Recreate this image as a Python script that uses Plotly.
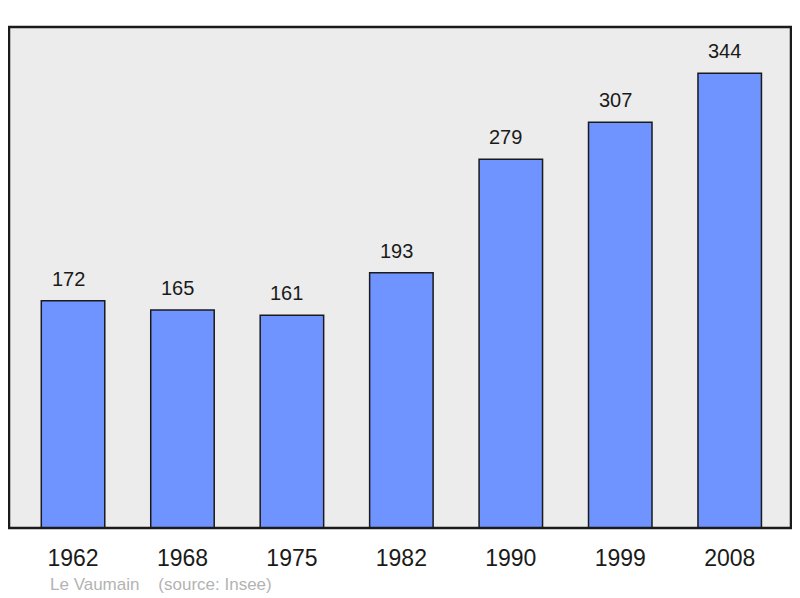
import plotly.graph_objects as go

# population data
years = ['1962', '1968', '1975', '1982', '1990', '1999', '2008']
population = [172, 165, 161, 193, 279, 307, 344]
town = 'Le Vaumain'
source = '(source: Insee)'

fig = go.Figure()

fig.add_trace(go.Bar(
    x=list(range(len(years))),
    y=population,
    width=0.58,
    marker=dict(color='#7094ff', line=dict(color='#1a1a1a', width=1.5)),
    hoverinfo='y',
))

# value labels above each bar (sit a little left of centre in the original)
for i, val in enumerate(population):
    fig.add_annotation(x=i, y=val, text=str(val), showarrow=False,
                       yshift=22, xshift=-5, font=dict(size=20, color='#1a1a1a'))

fig.add_annotation(x=0.05, xref='paper', y=-0.112, yref='paper',
                   xanchor='left', yanchor='middle', showarrow=False,
                   text=town + '    ' + source,
                   font=dict(size=17, color='#b3b3b3'))

# frame around plot area
fig.add_shape(type='rect', xref='paper', yref='paper', x0=0, y0=0, x1=1, y1=1,
              line=dict(color='#1a1a1a', width=2.5), layer='above')

# page body has an 8px margin, so the figure is shrunk to keep the plot in place
fig.update_layout(
    width=792, height=590,
    margin=dict(l=1, r=9, t=19, b=70),
    paper_bgcolor='white',
    plot_bgcolor='#ececec',
    font=dict(family='Liberation Sans, Arial, sans-serif'),
    showlegend=False,
    xaxis=dict(range=[-0.585, 6.56], showgrid=False, zeroline=False,
               tickmode='array', tickvals=list(range(len(years))), ticktext=years,
               ticks='', tickfont=dict(size=23, color='#1a1a1a'),
               ticklabelstandoff=14),
    yaxis=dict(range=[0, 379], showgrid=False, zeroline=False,
               showticklabels=False, ticks=''),
)

fig.write_html("out.html")
